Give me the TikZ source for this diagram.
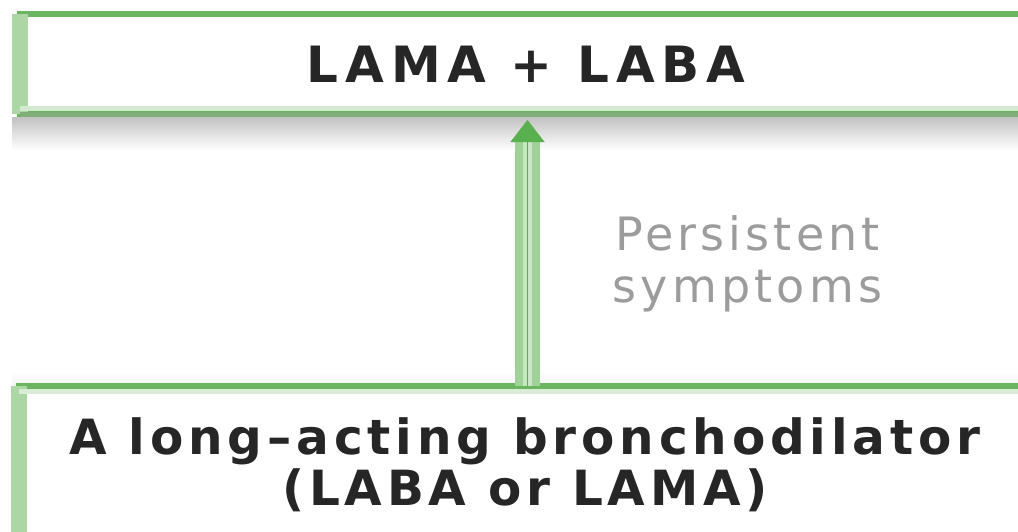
\documentclass[tikz,border=0pt]{standalone}
\usepackage{fontspec}
\setmainfont{DejaVu Sans}
\newfontfamily\topfont[LetterSpace=14]{DejaVu Sans}
\newfontfamily\botfont[LetterSpace=10]{DejaVu Sans}
\newfontfamily\lblfont[LetterSpace=9]{DejaVu Sans}
\usetikzlibrary{arrows.meta}
\definecolor{boxgreen}{HTML}{6CB560}
\definecolor{bandgreen}{HTML}{ACD7A4}
\definecolor{lightgreen}{HTML}{C9E5C4}
\definecolor{edgegreen}{HTML}{80AE79}
\definecolor{shaftgreen}{HTML}{A0D198}
\definecolor{headgreen}{HTML}{58B04E}
\definecolor{darktext}{HTML}{262626}
\definecolor{graytext}{HTML}{9C9C9C}
\tikzset{
  stagebox/.style={draw=boxgreen, line width=6pt, fill=white, minimum width=1012pt,
    inner sep=0pt, outer sep=0pt, align=center, text=darktext},
  leftband/.style={draw=bandgreen, line width=16pt},
  shaft/.style={draw=shaftgreen, line width=25pt},
  shaftcore/.style={draw=lightgreen, line width=9pt},
  lbl/.style={text=graytext, align=center, inner sep=0pt}
}
\begin{document}
\begin{tikzpicture}[x=1pt,y=-1pt]
\useasboundingbox (0,0) rectangle (1018,531);
\clip (0,0) rectangle (1018,531);
\fill[white] (0,0) rectangle (1018,531);
% shadow under the top box
\shade[top color=black!24, bottom color=white] (12,117) rectangle (1040,150);
\shade[top color=white, bottom color=black!5] (12,372) rectangle (1040,386);
% boxes
\node[stagebox, minimum height=100pt, font={\topfont\bfseries\fontsize{50}{52}\selectfont}]
  (top) at (526,64) {LAMA + LABA};
\node[stagebox, minimum height=158pt, font={\botfont\bfseries\fontsize{48.5}{51}\selectfont}]
  (bot) at (525,465) {A long\textendash acting bronchodilator\\(LABA or LAMA)};
\draw[leftband] (top.north west) -- (top.south west);
\draw[leftband] (bot.north west) -- (bot.south west);
\draw[draw=lightgreen!80, line width=5pt] ([yshift=5.5pt]top.south west) -- ([yshift=5.5pt]top.south east);
\draw[draw=edgegreen, line width=5pt] ([yshift=-0.5pt]top.south west) -- ([yshift=-0.5pt]top.south east);
\draw[draw=lightgreen!70, line width=5pt] ([yshift=-5.5pt]bot.north west) -- ([yshift=-5.5pt]bot.north east);
% connector
\coordinate (s) at ([xshift=2.5pt]bot.north);
\coordinate (e) at ([yshift=-6pt]s |- top.south);
\draw[shaft, shorten >=20pt] (s) -- (e);
\draw[shaftcore, shorten >=20pt] (s) -- (e);
\draw[draw=headgreen, line width=0.1pt, -{Triangle[width=34pt,length=22pt]}] (s) -- (e);
% label
\node[lbl, anchor=base, font={\lblfont\fontsize{46}{52}\selectfont}] (label) at (747.5,302) {Persistent\\symptoms};
\end{tikzpicture}
\end{document}
